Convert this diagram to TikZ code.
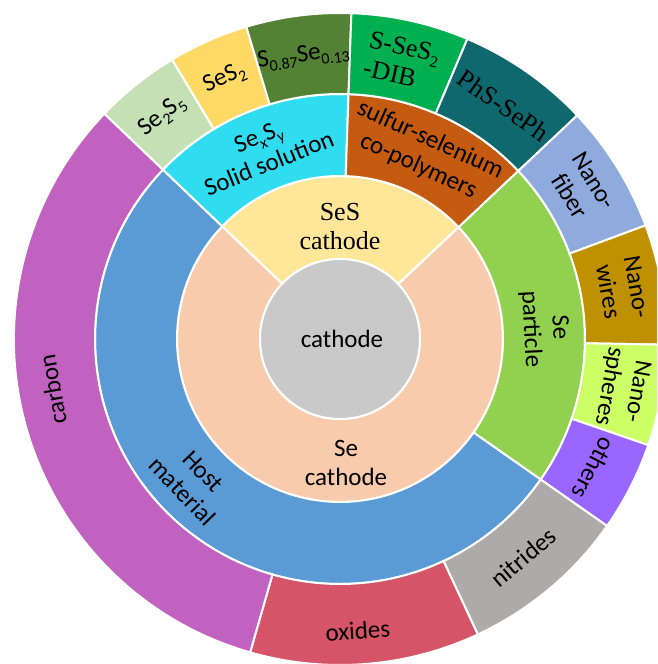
\documentclass[tikz,border=0pt]{standalone}
\usepackage{fontspec}
\setmainfont{Carlito}
\newfontfamily\serifface{Liberation Serif}
\definecolor{cGray}{HTML}{C9C9C9}
\definecolor{cSeS}{HTML}{FFE699}
\definecolor{cSe}{HTML}{F8CBAD}
\definecolor{cCyan}{HTML}{30DCEF}
\definecolor{cOrange}{HTML}{C55A11}
\definecolor{cGreen}{HTML}{92D050}
\definecolor{cBlue}{HTML}{5B9BD5}
\definecolor{cSeTwoSFive}{HTML}{C5E0B4}
\definecolor{cSeSTwo}{HTML}{FFD966}
\definecolor{cSSe}{HTML}{548235}
\definecolor{cDIB}{HTML}{00B050}
\definecolor{cPhS}{HTML}{10686F}
\definecolor{cFiber}{HTML}{8FAADC}
\definecolor{cWires}{HTML}{BF9000}
\definecolor{cSpheres}{HTML}{CCFF66}
\definecolor{cOthers}{HTML}{9966FF}
\definecolor{cNitrides}{HTML}{AEAAAA}
\definecolor{cOxides}{HTML}{D65468}
\definecolor{cCarbon}{HTML}{C162C1}
\newcommand\mysub[1]{\raisebox{-0.22em}{\fontsize{16}{16}\selectfont #1}}
% inner radius, outer radius, start angle, end angle, colour
\newcommand\sbseg[5]{%
  \fill[#5, draw=white, line width=2pt] (#3:#1pt) arc[start angle=#3, end angle=#4, radius=#1pt]
    -- (#4:#2pt) arc[start angle=#4, end angle=#3, radius=#2pt] -- cycle;}
\tikzset{
  lbl/.style={font=\fontsize{25}{29}\selectfont, align=center, inner sep=0pt, text=black},
  slbl/.style={lbl, font=\serifface\fontsize{26}{29}\selectfont}
}
\begin{document}
\begin{tikzpicture}
\fill[white] (-340pt,-325pt) rectangle (317pt,339pt);
\useasboundingbox (-340pt,-325pt) rectangle (317pt,339pt);
\clip (-340pt,-325pt) rectangle (317pt,339pt);
% ring 2
\sbseg{80}{163}{43.3}{136.3}{cSeS}
\sbseg{80}{163}{136.3}{403.3}{cSe}
% ring 3
\sbseg{163}{245}{88}{136.3}{cCyan}
\sbseg{163}{245}{43.3}{88}{cOrange}
\sbseg{163}{245}{-35}{43.3}{cGreen}
\sbseg{163}{245}{136.3}{325}{cBlue}
% ring 4
\sbseg{245}{326}{121}{136.3}{cSeTwoSFive}
\sbseg{245}{326}{106.7}{121}{cSeSTwo}
\sbseg{245}{326}{88}{106.7}{cSSe}
\sbseg{245}{326}{67}{88}{cDIB}
\sbseg{245}{326}{43.3}{67}{cPhS}
\sbseg{245}{326}{20.4}{43.3}{cFiber}
\sbseg{245}{326}{-1}{20.4}{cWires}
\sbseg{245}{326}{-19}{-1}{cSpheres}
\sbseg{245}{326}{-35}{-19}{cOthers}
\sbseg{245}{326}{-65}{-35}{cNitrides}
\sbseg{245}{326}{-106}{-65}{cOxides}
\sbseg{245}{326}{136.3}{254}{cCarbon}
% centre
\fill[cGray, draw=white, line width=2pt] (0,0) circle[radius=80pt];
% labels
\node[lbl] (cathode) at (2pt,0pt) {cathode};
\node[slbl] (sescath) at (90:112pt) {SeS\\cathode};
\node[lbl] (secath) at (6pt,-124pt) {Se\\cathode};
\node[lbl, rotate=22] (solid) at (112:204pt) {Se\mysub{x}S\mysub{y}\\Solid solution};
\node[lbl, rotate=-24.4] (copoly) at (65.6:204pt) {sulfur-selenium\\co-polymers};
\node[lbl, rotate=-87] (separt) at (3:205pt) {Se\\particle};
\node[lbl, rotate=-46] (host) at (224:205pt) {Host\\material};
\node[lbl, rotate=38.5] (setwosfive) at (128.5:285pt) {Se\mysub{2}S\mysub{5}};
\node[lbl, rotate=23.9] (sestwo) at (113.9:285pt) {SeS\mysub{2}};
\node[lbl, rotate=7.4] (ssesub) at (97.4:285pt) {S\mysub{0.87}Se\mysub{0.13}};
\node[slbl, rotate=-12.5, align=left] (dib) at (77.5:285pt) {S-SeS\mysub{2}\\-DIB};
\node[slbl, rotate=-35] (phs) at (55:285pt) {PhS-SePh};
\node[lbl, rotate=-58] (fiber) at (31.9:285pt) {Nano-\\fiber};
\node[lbl, rotate=-80] (wires) at (10:287pt) {Nano-\\wires};
\node[lbl, rotate=-100] (spheres) at (-10:287pt) {Nano-\\spheres};
\node[lbl, rotate=-117] (others) at (-27:285pt) {others};
\node[lbl, rotate=40] (nitrides) at (-50:285pt) {nitrides};
\node[lbl, rotate=4] (oxides) at (-86.5:292pt) {oxides};
\node[lbl, rotate=100] (carbon) at (190:292pt) {carbon};
\end{tikzpicture}
\end{document}
